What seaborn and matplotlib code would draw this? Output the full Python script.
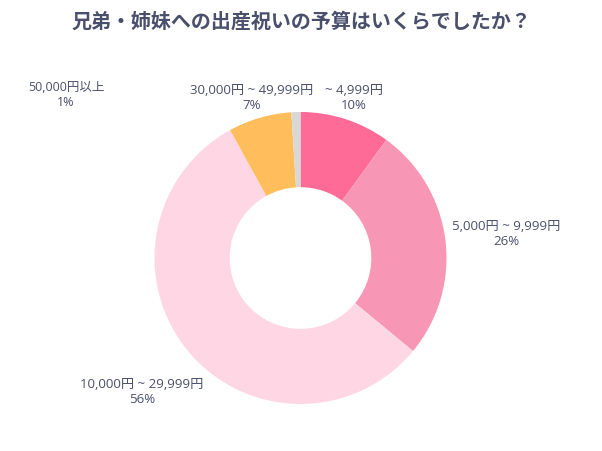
import matplotlib
matplotlib.use("Agg")
import matplotlib.pyplot as plt
import seaborn as sns

# data
categories = ["~ 4,999円", "5,000円 ~ 9,999円", "10,000円 ~ 29,999円", "30,000円 ~ 49,999円", "50,000円以上"]
shares = [10, 26, 56, 7, 1]
colors = ["#FF6B97", "#F797B5", "#FFD7E4", "#FFBE5B", "#D8D8D8"]

# label anchor points in pixels (top-left origin)
label_pos = [(354, 98), (506, 234), (142, 392), (252, 98), (66, 95)]

sns.set_theme(style="white")
plt.rcParams["font.family"] = ["Open Sans", "Noto Sans CJK JP", "DejaVu Sans"]

W, H = 602, 451
fig = plt.figure(figsize=(W / 100, H / 100), dpi=100)
ax = fig.add_axes([0, 0, 1, 1])

cx, cy, r = 300.5, H - 258, 146
ax.pie(shares, colors=colors, startangle=90, counterclock=False,
       center=(cx, cy), radius=r, frame=True,
       wedgeprops=dict(width=r * 0.515, linewidth=0))
ax.set_xlim(0, W)
ax.set_ylim(0, H)
ax.set_aspect("equal")
ax.axis("off")

text_color = "#4A4F6B"
for cat, val, (px, py) in zip(categories, shares, label_pos):
    fs = 9.0 if cat == "50,000円以上" else 9.5
    ax.text(px, H - py, f"{cat}\n{val}%", ha="center", va="center",
            fontsize=fs, color=text_color, linespacing=1.2)

fig.text(0.5, 1 - 21 / H, "兄弟・姉妹への出産祝いの予算はいくらでしたか？",
         ha="center", va="center", fontsize=14.4, fontweight="bold", color=text_color,
         family=["Noto Sans CJK JP", "DejaVu Sans"])

fig.savefig("out.png", dpi=100)
